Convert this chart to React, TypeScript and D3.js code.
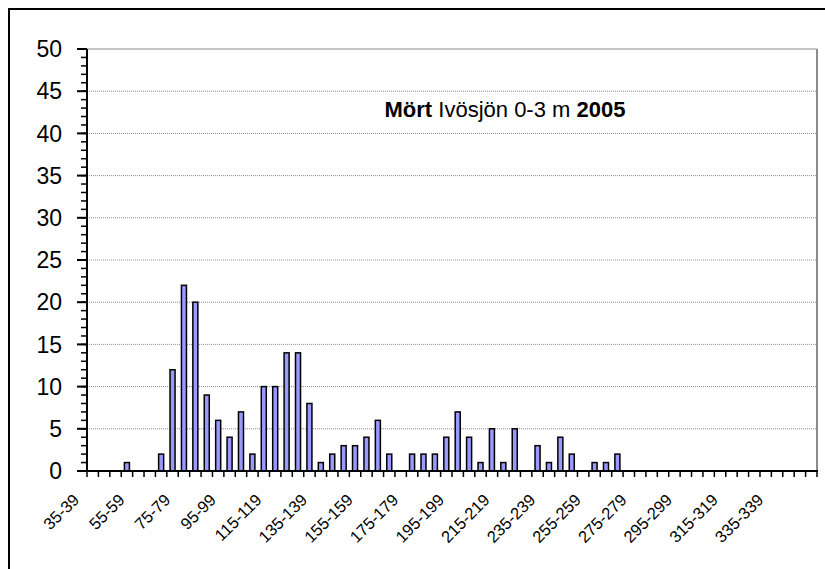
import * as d3 from 'd3';

// 5 mm length classes, counts per class (Mört, Ivösjön 0-3 m, 2005)
const lengthClasses = [
  '35-39', '40-44', '45-49', '50-54', '55-59', '60-64', '65-69', '70-74',
  '75-79', '80-84', '85-89', '90-94', '95-99', '100-104', '105-109', '110-114',
  '115-119', '120-124', '125-129', '130-134', '135-139', '140-144', '145-149', '150-154',
  '155-159', '160-164', '165-169', '170-174', '175-179', '180-184', '185-189', '190-194',
  '195-199', '200-204', '205-209', '210-214', '215-219', '220-224', '225-229', '230-234',
  '235-239', '240-244', '245-249', '250-254', '255-259', '260-264', '265-269', '270-274',
  '275-279', '280-284', '285-289', '290-294', '295-299', '300-304', '305-309', '310-314',
  '315-319', '320-324', '325-329', '330-334', '335-339', '340-344', '345-349', '350-354',
];

const counts = [
  0, 0, 0, 1, 0, 0, 2, 12,
  22, 20, 9, 6, 4, 7, 2, 10,
  10, 14, 14, 8, 1, 2, 3, 3,
  4, 6, 2, 0, 2, 2, 2, 4,
  7, 4, 1, 5, 1, 5, 0, 3,
  1, 4, 2, 0, 1, 1, 2, 0,
  0, 0, 0, 0, 0, 0, 0, 0,
  0, 0, 0, 0, 0, 0, 0, 0,
];

const yTicks = [0, 5, 10, 15, 20, 25, 30, 35, 40, 45, 50];
const yMinorTicks = d3.range(0, 51, 1);

const FONT = '"Liberation Sans", Arial, sans-serif';

export default function App() {
  const width = 825;
  const height = 569;
  const plot = { left: 87, right: 817, top: 49, bottom: 471 };

  const x = d3
    .scaleBand<string>()
    .domain(lengthClasses)
    .range([plot.left, plot.right])
    .paddingInner(0.56)
    .paddingOuter(0.28);

  const y = d3.scaleLinear().domain([0, 50]).range([plot.bottom, plot.top]);

  const step = x.step();
  const boundaries = d3.range(lengthClasses.length + 1).map((i) => plot.left + i * step);

  return (
    <div style={{ position: 'absolute', left: 0, top: 0 }}>
      <svg width={width} height={height} style={{ display: 'block', background: '#fff' }} fontFamily={FONT}>
        {/* chart area border (cut off at right/bottom) */}
        <rect x={9} y={9} width={830} height={580} fill="#fff" stroke="#000" strokeWidth={2} />

        {/* gridlines */}
        {yTicks.slice(1).map((t) => (
          <line
            key={'g' + t}
            x1={plot.left}
            x2={plot.right}
            y1={y(t)}
            y2={y(t)}
            stroke="#8c8c8c"
            strokeWidth={1}
            strokeDasharray={t === 50 ? undefined : '1,1'}
          />
        ))}
        {/* plot area right edge */}
        <line x1={plot.right} x2={plot.right} y1={plot.top} y2={plot.bottom} stroke="#8c8c8c" strokeWidth={2} />

        {/* bars */}
        {lengthClasses.map((c, i) =>
          counts[i] > 0 ? (
            <rect
              key={c}
              x={x(c)}
              y={y(counts[i])}
              width={x.bandwidth()}
              height={y(0) - y(counts[i])}
              fill="#9999ff"
              stroke="#000"
              strokeWidth={1.5}
            />
          ) : null
        )}

        {/* y axis */}
        <line x1={plot.left} x2={plot.left} y1={plot.top} y2={plot.bottom} stroke="#000" strokeWidth={2} />
        {yMinorTicks.map((t) => (
          <line key={'m' + t} x1={plot.left - 6} x2={plot.left} y1={y(t)} y2={y(t)} stroke="#000" strokeWidth={1.5} />
        ))}
        {yTicks.map((t) => (
          <g key={'y' + t}>
            <line x1={plot.left - 10} x2={plot.left} y1={y(t)} y2={y(t)} stroke="#000" strokeWidth={2} />
            <text x={62} y={y(t)} dy="0.36em" textAnchor="end" fontSize={23} fill="#000">
              {t}
            </text>
          </g>
        ))}

        {/* x axis */}
        <line x1={plot.left - 1} x2={plot.right + 1} y1={plot.bottom} y2={plot.bottom} stroke="#000" strokeWidth={2} />
        {boundaries.map((bx, i) => (
          <line key={'xt' + i} x1={bx} x2={bx} y1={plot.bottom} y2={plot.bottom + 6} stroke="#000" strokeWidth={1.5} />
        ))}
        {lengthClasses.map((c, i) => {
          if (i % 4 !== 0) return null;
          const cx = (x(c) ?? 0) + x.bandwidth() / 2 - 12.5;
          const cy = plot.bottom + 30;
          return (
            <text
              key={'xl' + c}
              transform={`translate(${cx},${cy}) rotate(-45)`}
              textAnchor="end"
              fontSize={16.5}
              fill="#000"
            >
              {c}
            </text>
          );
        })}

        {/* title */}
        <text x={505} y={117} textAnchor="middle" fontSize={22} fill="#000">
          <tspan fontWeight="bold">Mört</tspan>
          {' Ivösjön 0-3 m '}
          <tspan fontWeight="bold">2005</tspan>
        </text>
      </svg>
    </div>
  );
}
